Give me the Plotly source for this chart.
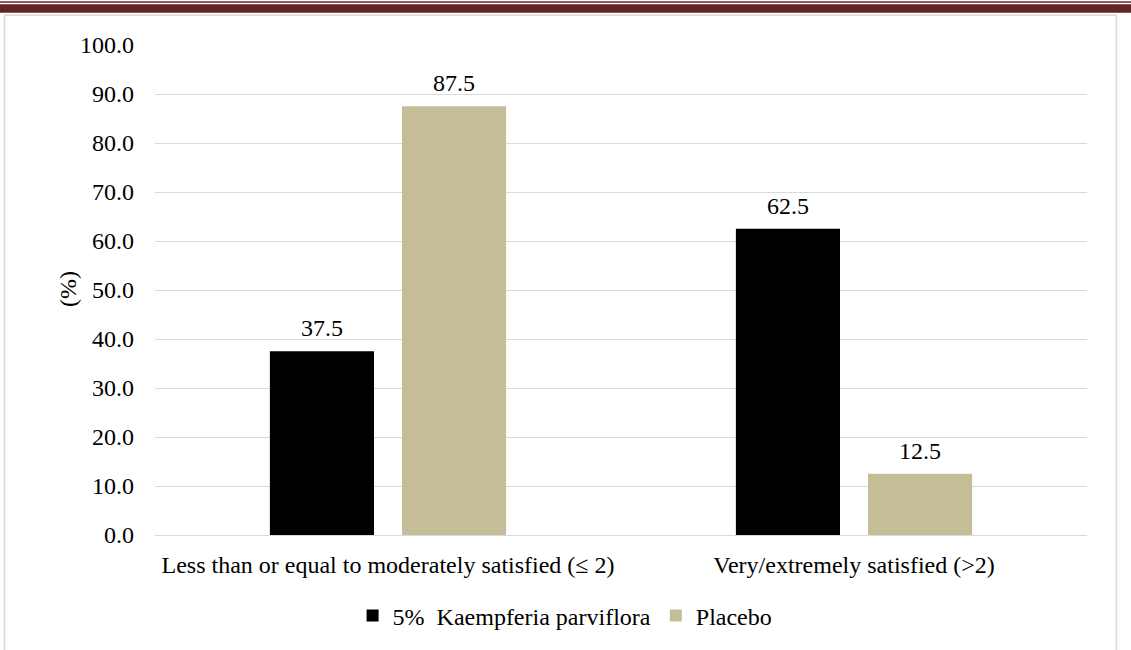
import plotly.graph_objects as go

# Satisfaction categories and percentages per treatment group
categories = ["Less than or equal to moderately satisfied (\u2264 2)",
              "Very/extremely satisfied (>2)"]
kaempferia = [37.5, 62.5]
placebo = [87.5, 12.5]
series_names = ["5%  Kaempferia parviflora", "Placebo"]
y_ticks = [0, 10, 20, 30, 40, 50, 60, 70, 80, 90, 100]

FONT = "Liberation Serif"
SIZE = 24
GRID = "#D9D9D9"
BARGAP = 0.433
BARGROUPGAP = 0.212

fig = go.Figure()
fig.add_trace(go.Bar(
    x=categories, y=kaempferia, name=series_names[0],
    marker=dict(color="#000000", line=dict(width=0)),
))
fig.add_trace(go.Bar(
    x=categories, y=placebo, name=series_names[1],
    marker=dict(color="#C4BD97", line=dict(width=0)),
))

# Value labels above each bar; each bar sits a quarter of the group width
# left or right of its category centre.
half_slot = (1 - BARGAP) / 4
annotations = []
for series, side in ((kaempferia, -1), (placebo, 1)):
    for i, v in enumerate(series):
        annotations.append(dict(
            x=i + side * half_slot, y=v, xref="x", yref="y",
            text=f"{v:.1f}", showarrow=False, yanchor="bottom", yshift=8,
            font=dict(family=FONT, size=SIZE, color="#000000"),
        ))

# Rotated y-axis title
annotations.append(dict(
    x=-0.0933, y=0.502, xref="paper", yref="paper", text="(%)", textangle=-90,
    showarrow=False, xanchor="center", yanchor="middle",
    font=dict(family=FONT, size=SIZE, color="#000000"),
))

# Page decoration: double rule along the top and a light frame around the chart
shapes = [
    dict(type="rect", xref="paper", yref="paper", x0=-0.17, x1=1.05,
         y0=1.0657, y1=1.0833, fillcolor="#632523", line=dict(width=0), layer="above"),
    dict(type="rect", xref="paper", yref="paper", x0=-0.17, x1=1.05,
         y0=1.0860, y1=1.0894, fillcolor="#632523", line=dict(width=0), layer="above"),
    dict(type="rect", xref="paper", yref="paper", x0=-0.1615, x1=1.0315,
         y0=-0.30, y1=1.0605, fillcolor="rgba(0,0,0,0)",
         line=dict(color=GRID, width=1.5), layer="below"),
]

fig.update_layout(
    width=1131, height=650,
    margin=dict(l=155, r=44, t=45, b=113),
    paper_bgcolor="white", plot_bgcolor="white",
    font=dict(family=FONT, size=SIZE, color="#000000"),
    barmode="group", bargap=BARGAP, bargroupgap=BARGROUPGAP,
    showlegend=True,
    legend=dict(orientation="h", x=0.44, xanchor="center", y=-0.165, yanchor="middle",
                font=dict(family=FONT, size=SIZE, color="#000000"),
                itemwidth=30, traceorder="normal"),
    shapes=shapes,
    annotations=annotations,
    xaxis=dict(showgrid=False, showline=False, ticks="", ticklabelstandoff=13,
               tickfont=dict(family=FONT, size=SIZE, color="#000000")),
    yaxis=dict(range=[0, 100], tickvals=y_ticks, tickformat=".1f",
               showgrid=True, gridcolor=GRID, gridwidth=1.3,
               zeroline=True, zerolinecolor=GRID, zerolinewidth=1.3,
               showline=False, ticks="", ticklabelstandoff=20,
               tickfont=dict(family=FONT, size=SIZE, color="#000000")),
)

fig.write_html("out.html")
